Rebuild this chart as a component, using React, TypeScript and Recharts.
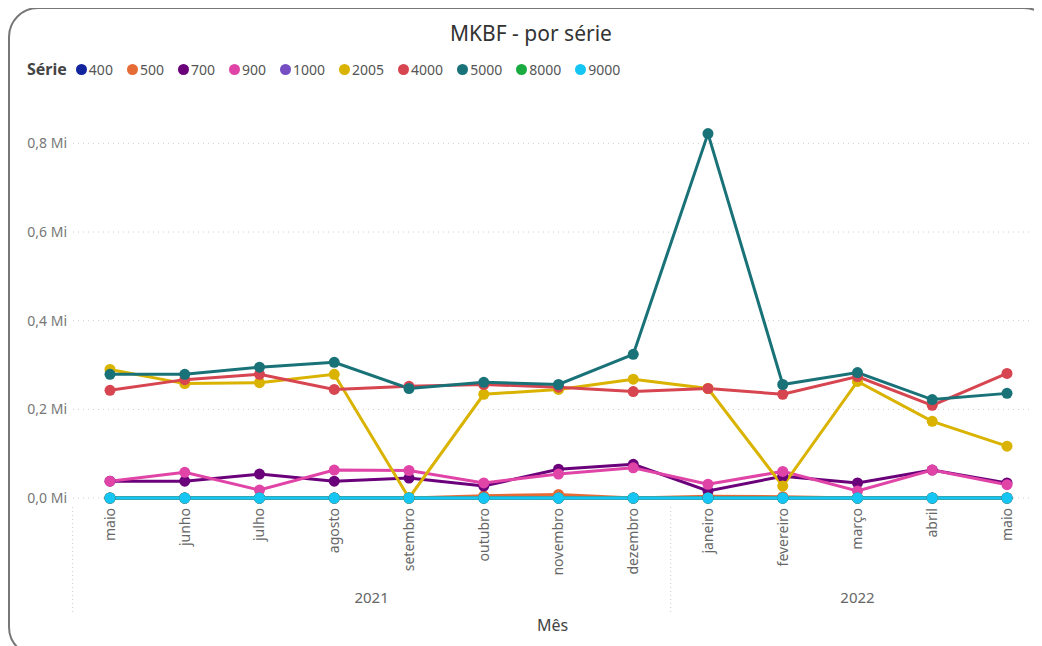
import { LineChart, Line, XAxis, YAxis, CartesianGrid, Legend } from "recharts";

const months = [
  "maio", "junho", "julho", "agosto", "setembro", "outubro", "novembro",
  "dezembro", "janeiro", "fevereiro", "março", "abril", "maio",
];
const yearLabels = ["2021", "2022"];
const yearMids = [3.5, 10];
const yearBounds = [-0.5, 7.5];

const series = ["400", "500", "700", "900", "1000", "2005", "4000", "5000", "8000", "9000"];
const colors = [
  "#12239E", "#E66C37", "#6B007B", "#E044A7", "#744EC2",
  "#D9B300", "#D64550", "#197278", "#1AAB40", "#15C6F4",
];

// valores em milhões (Mi)
const s400 = [0, 0, 0, 0, 0, 0, 0, 0, 0, 0, 0, 0, 0];
const s500 = [0, 0, 0, 0, 0, 0.005, 0.008, 0, 0.004, 0.003, 0, 0, 0];
const s700 = [0.038, 0.038, 0.054, 0.038, 0.045, 0.027, 0.065, 0.076, 0.016, 0.049, 0.034, 0.063, 0.034];
const s900 = [0.038, 0.058, 0.018, 0.063, 0.062, 0.034, 0.054, 0.068, 0.031, 0.06, 0.016, 0.063, 0.03];
const s1000 = [0, 0, 0, 0, 0, 0, 0, 0, 0, 0, 0, 0, 0];
const s2005 = [0.29, 0.258, 0.26, 0.279, 0, 0.234, 0.245, 0.268, 0.247, 0.027, 0.263, 0.173, 0.117];
const s4000 = [0.243, 0.267, 0.279, 0.245, 0.252, 0.256, 0.25, 0.24, 0.247, 0.234, 0.274, 0.209, 0.281];
const s5000 = [0.279, 0.279, 0.295, 0.306, 0.247, 0.261, 0.256, 0.324, 0.822, 0.256, 0.283, 0.222, 0.236];
const s8000 = [0, 0, 0, 0, 0, 0, 0, 0, 0, 0, 0, 0, 0];
const s9000 = [0, 0, 0, 0, 0, 0, 0, 0, 0, 0, 0, 0, 0];

const values = [s400, s500, s700, s900, s1000, s2005, s4000, s5000, s8000, s9000];
const yTicks = [0, 0.2, 0.4, 0.6, 0.8];

const data = months.map((m, i) => {
  const row: Record<string, any> = { mes: m + "-" + i, label: m, idx: i };
  series.forEach((s, k) => {
    row[s] = values[k][i];
  });
  return row;
});

const FONT = "'Segoe UI', 'Noto Sans', sans-serif";

const MonthTick = (props: any) => {
  const { x, y, index } = props;
  return (
    <text
      x={x}
      y={y}
      transform={`rotate(-90 ${x} ${y})`}
      textAnchor="end"
      dy="0.35em"
      fill="#666"
      fontSize={14}
      fontFamily={FONT}
    >
      {months[index]}
    </text>
  );
};

const YearTick = (props: any) => {
  const { x, y, payload } = props;
  const v = payload.value;
  const b = yearBounds.indexOf(v);
  if (b >= 0) {
    return (
      <line x1={x} x2={x} y1={y - 66} y2={y + 42} stroke="#ccc" strokeDasharray="1 3" />
    );
  }
  const k = yearMids.indexOf(v);
  return (
    <text x={x} y={y + 30} textAnchor="middle" fill="#666" fontSize={15} fontFamily={FONT}>
      {yearLabels[k]}
    </text>
  );
};

const LegendContent = (props: any) => {
  const payload = [...(props.payload || [])].sort(
    (a: any, b: any) => series.indexOf(a.value) - series.indexOf(b.value)
  );
  return (
    <div style={{ display: "flex", alignItems: "center", fontFamily: FONT, fontSize: 14, color: "#555" }}>
      <span style={{ fontWeight: 700, fontSize: 16, color: "#444", marginRight: 9 }}>Série</span>
      {payload.map((p: any) => (
        <span key={p.value} style={{ display: "flex", alignItems: "center", marginRight: 14 }}>
          <span
            style={{
              width: 11,
              height: 11,
              borderRadius: "50%",
              background: p.color,
              display: "inline-block",
              marginRight: 2,
            }}
          />
          {p.value}
        </span>
      ))}
    </div>
  );
};

export default function App() {
  return (
    <div
      style={{
        position: "relative",
        width: 1046,
        height: 650,
        border: "2px solid #777",
        borderRadius: 30,
        boxSizing: "border-box",
        background: "#fff",
        top: -1,
      }}
    >
      <div
        style={{
          position: "absolute",
          top: 10,
          left: 0,
          width: 1042,
          textAlign: "center",
          fontFamily: FONT,
          fontSize: 21,
          color: "#333",
        }}
      >
        MKBF - por série
      </div>
      <div style={{ position: "absolute", left: 0, top: 0 }}>
        <LineChart
          width={1040}
          height={628}
          data={data}
          margin={{ top: 68, right: 18, left: 0, bottom: 0 }}
        >
          <CartesianGrid
            vertical={false}
            stroke="#ccc"
            strokeDasharray="1 4"
            horizontalValues={yTicks}
          />
          <XAxis
            dataKey="mes"
            type="category"
            padding={{ left: 37, right: 25 }}
            axisLine={false}
            tickLine={false}
            tickSize={0}
            tickMargin={10}
            height={75}
            interval={0}
            tick={<MonthTick />}
          />
          <XAxis
            xAxisId="year"
            dataKey="idx"
            type="number"
            domain={[0, 12]}
            ticks={[...yearBounds, ...yearMids]}
            padding={{ left: 37, right: 25 }}
            axisLine={false}
            tickLine={false}
            tickSize={0}
            tickMargin={0}
            height={64}
            interval={0}
            allowDataOverflow
            tick={<YearTick />}
            label={{
              value: "Mês",
              position: "insideBottom",
              offset: 6,
              fill: "#444",
              fontSize: 16,
              fontFamily: FONT,
            }}
          />
          <YAxis
            domain={[0, 0.9]}
            ticks={yTicks}
            width={63}
            axisLine={false}
            tickLine={false}
            tickSize={0}
            tickMargin={6}
            tick={{ fill: "#777", fontSize: 14, fontFamily: FONT }}
            tickFormatter={(v: number) => v.toFixed(1).replace(".", ",") + " Mi"}
          />
          <Legend
            verticalAlign="top"
            align="left"
            content={<LegendContent />}
            wrapperStyle={{ position: "absolute", top: 49, left: 17, width: "auto" }}
          />
          {series.map((s, k) => (
            <Line
              key={s}
              dataKey={s}
              name={s}
              type="linear"
              stroke={colors[k]}
              strokeWidth={3}
              dot={{ r: 5.5, fill: colors[k], stroke: colors[k], strokeWidth: 0 }}
              activeDot={false}
              isAnimationActive={false}
            />
          ))}
        </LineChart>
      </div>
    </div>
  );
}
